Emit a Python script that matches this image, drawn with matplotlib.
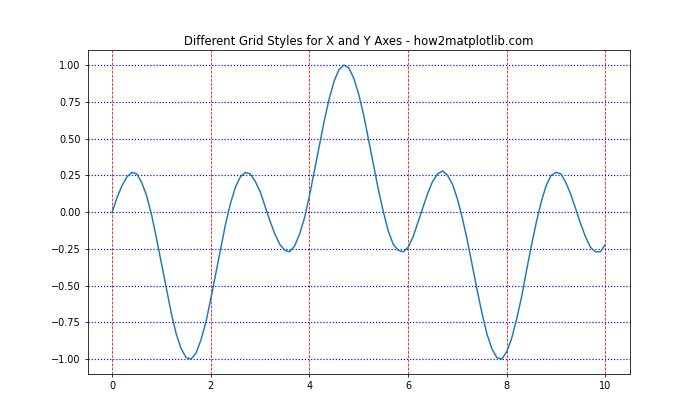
import numpy as np
import matplotlib
matplotlib.use('Agg')
import matplotlib.pyplot as plt

x_vals = np.arange(0, 101) / 10
y_vals = [
    0.00, 0.10, 0.18, 0.24, 0.27, 0.26, 0.20, 0.11, -0.02, -0.18,
    -0.35, -0.52, -0.69, -0.83, -0.93, -0.99, -1.00, -0.96, -0.87, -0.75,
    -0.59, -0.42, -0.25, -0.08, 0.06, 0.17, 0.24, 0.27, 0.26, 0.21,
    0.14, 0.04, -0.06, -0.15, -0.22, -0.26, -0.27, -0.23, -0.15, -0.04,
    0.11, 0.28, 0.45, 0.62, 0.77, 0.89, 0.97, 1.00, 0.98, 0.91,
    0.80, 0.66, 0.49, 0.32, 0.15, 0.00, -0.13, -0.22, -0.26, -0.27,
    -0.24, -0.17, -0.07, 0.03, 0.13, 0.21, 0.26, 0.28, 0.25, 0.19,
    0.09, -0.04, -0.19, -0.36, -0.53, -0.69, -0.83, -0.93, -0.99, -1.00,
    -0.95, -0.86, -0.73, -0.58, -0.40, -0.23, -0.07, 0.07, 0.18, 0.25,
    0.27, 0.26, 0.20, 0.12, 0.02, -0.08, -0.17, -0.24, -0.27, -0.27,
    -0.22,
]

fig, ax = plt.subplots(figsize=(10, 6), dpi=70)
ax.plot(x_vals, y_vals)
ax.set_title('Different Grid Styles for X and Y Axes - how2matplotlib.com')
ax.xaxis.grid(True, color='r', linestyle='--')
ax.yaxis.grid(True, color='b', linestyle=':', linewidth=1.2)
fig.savefig('out.png')
